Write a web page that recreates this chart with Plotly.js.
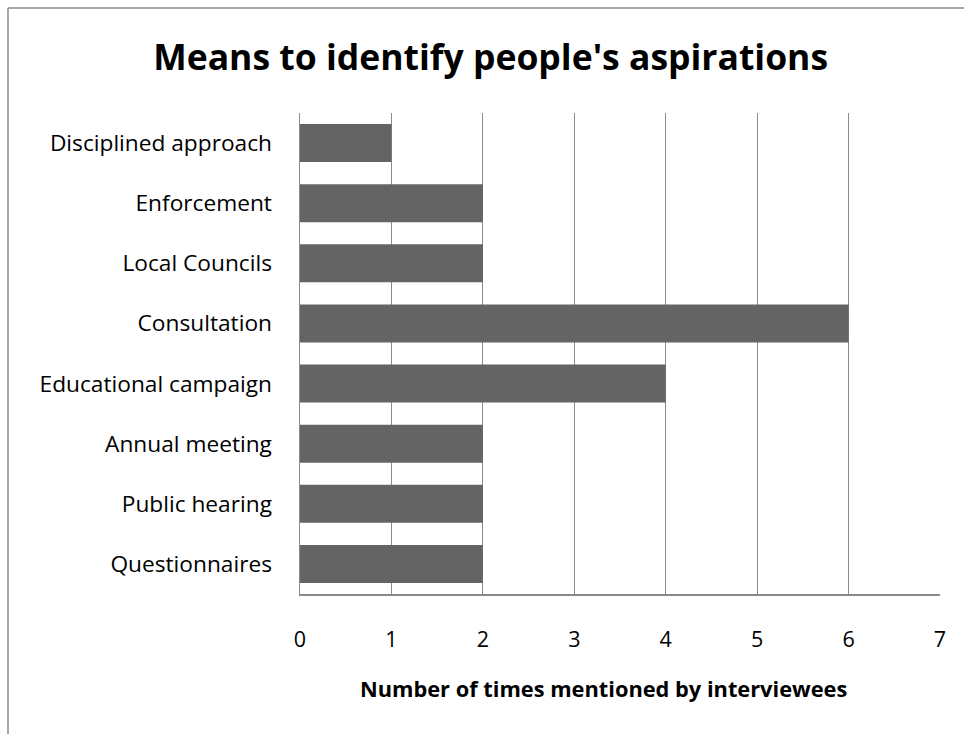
<!DOCTYPE html>
<html><head><meta charset="utf-8">
<script src="https://cdn.plot.ly/plotly-3.0.1.min.js"></script>
<style>html,body{margin:0;padding:0;background:#fff}#chart{width:964px;height:734px}</style>
</head><body><div id="chart"></div>
<script>
const categories = ["Questionnaires","Public hearing","Annual meeting","Educational campaign","Consultation","Local Councils","Enforcement","Disciplined approach"];
const counts = [2,2,2,4,6,2,2,1];
const xTicks = [0,1,2,3,4,5,6,7];
const xTitle = "Number of times mentioned by interviewees";

const F = "Open Sans, Liberation Sans, sans-serif";
const trace = {
  type: "bar", orientation: "h",
  y: categories, x: counts,
  marker: {color: "#646464", line: {width: 0}},
  hoverinfo: "none"
};
const layout = {
  width: 964, height: 734,
  margin: {l: 300, r: 24, t: 113, b: 140},
  paper_bgcolor: "#fff", plot_bgcolor: "#fff",
  bargap: 0.37,
  showlegend: false,
  title: {text: "<b>Means to identify people's aspirations</b>", font: {family: F, size: 35.5, color: "#000"},
          x: 0.509, xanchor: "center", xref: "container", y: 0.921, yanchor: "middle"},
  xaxis: {range: [0, 7], tickvals: xTicks, ticktext: xTicks.map(String),
          showgrid: true, gridcolor: "#8a8a8a", gridwidth: 1,
          showline: true, linecolor: "#8a8a8a", linewidth: 1.5,
          zeroline: false, ticks: "outside", ticklen: 26, tickcolor: "rgba(0,0,0,0)",
          tickfont: {family: F, size: 21.5, color: "#000"},
          fixedrange: true},
  yaxis: {type: "category", showgrid: false, showline: true, linecolor: "#8a8a8a", linewidth: 1.5,
          ticks: "outside", ticklen: 22, tickcolor: "rgba(0,0,0,0)",
          tickfont: {family: F, size: 22.7, color: "#000"}, fixedrange: true},
  annotations: [
    {text: "<b>" + xTitle + "</b>", xref: "paper", yref: "paper", x: (603-300)/640, y: (594-688)/481,
     xanchor: "center", yanchor: "middle", showarrow: false, font: {family: F, size: 21.8, color: "#000"}}
  ],
  shapes: [
    {type: "line", xref: "paper", yref: "paper", x0: (8-300)/640, x1: (990-300)/640, y0: (594-8)/481, y1: (594-8)/481, line: {color: "#8a8a8a", width: 1.5}},
    {type: "line", xref: "paper", yref: "paper", x0: (8-300)/640, x1: (8-300)/640, y0: (594-8)/481, y1: (594-760)/481, line: {color: "#8a8a8a", width: 1.5}}
  ]
};
Plotly.newPlot("chart", [trace], layout, {staticPlot: true, displayModeBar: false});
</script></body></html>
